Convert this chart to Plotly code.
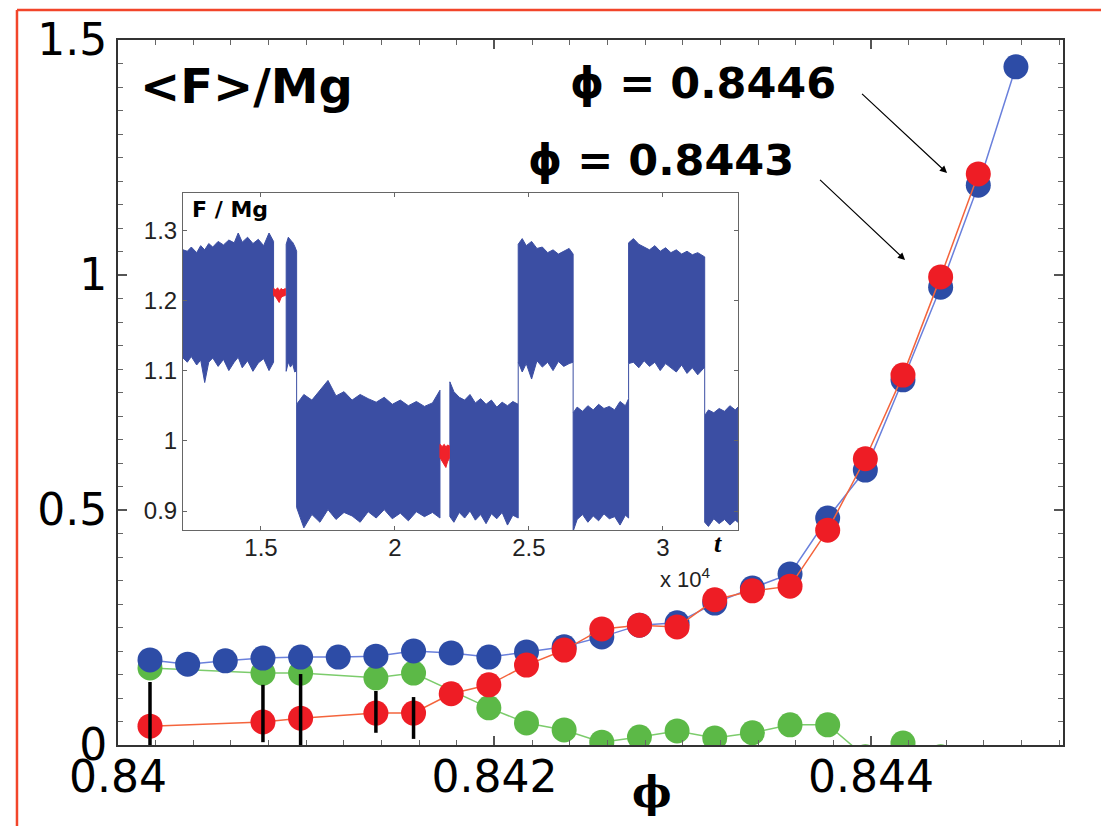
import plotly.graph_objects as go

# ---------------- main panel data ----------------
phi_all = [0.84017, 0.84037, 0.84057, 0.84077, 0.84097, 0.84117, 0.84137, 0.84157,
           0.84177, 0.84197, 0.84217, 0.84237, 0.84257, 0.84277, 0.84297, 0.84317,
           0.84337, 0.84357, 0.84377, 0.84397, 0.84417, 0.84437, 0.84457, 0.84477]
blue_F = [0.181, 0.172, 0.179, 0.185, 0.187, 0.187, 0.189, 0.200,
          0.196, 0.187, 0.198, 0.209, 0.230, 0.255, 0.260, 0.302,
          0.334, 0.364, 0.483, 0.585, 0.777, 0.974, 1.191, 1.443]

phi_red = [0.84017, 0.84077, 0.84097, 0.84137, 0.84157, 0.84177, 0.84197, 0.84217,
           0.84237, 0.84257, 0.84277, 0.84297, 0.84317, 0.84337, 0.84357, 0.84377,
           0.84397, 0.84417, 0.84437, 0.84457]
red_F = [0.040, 0.049, 0.057, 0.068, 0.068, 0.109, 0.128, 0.170,
         0.202, 0.247, 0.255, 0.251, 0.309, 0.328, 0.338, 0.457,
         0.609, 0.787, 0.996, 1.215]

phi_green = [0.84017, 0.84077, 0.84097, 0.84137, 0.84157, 0.84197, 0.84217, 0.84237,
             0.84257, 0.84277, 0.84297, 0.84317, 0.84337, 0.84357, 0.84377, 0.84397,
             0.84417, 0.84437]
green_F = [0.164, 0.153, 0.153, 0.143, 0.153, 0.079, 0.047, 0.032,
           0.006, 0.017, 0.030, 0.015, 0.026, 0.043, 0.043, -0.025,
           0.004, -0.025]

bar_phi = [0.84017, 0.84077, 0.84097, 0.84137, 0.84157]
bar_lo = [-0.01, 0.006, -0.01, 0.026, 0.013]
bar_hi = [0.134, 0.128, 0.151, 0.115, 0.102]

x_ticks = [0.840, 0.842, 0.844]
x_ticktext = ["0.84", "0.842", "0.844"]
y_ticks = [0, 0.5, 1.0, 1.5]
y_ticktext = ["0", "0.5", "1", "1.5"]

# ---------------- inset data (t in units of 1e4) ----------------
# blue blocks of the force signal: time, upper envelope, lower envelope (None separates blocks)
sig_t = [1.209, 1.225, 1.24, 1.26, 1.275, 1.29, 1.305, 1.32, 1.34, 1.36, 1.38, 1.40, 1.415, 1.43, 1.45, 1.47, 1.49, 1.51, 1.53, 1.547, None,
         1.594, 1.602, 1.61, 1.618, 1.626, 1.633, None,
         1.633, 1.66, 1.69, 1.72, 1.75, 1.78, 1.81, 1.84, 1.87, 1.90, 1.93, 1.96, 1.99, 2.02, 2.05, 2.08, 2.11, 2.14, 2.168, None,
         2.205, 2.22, 2.24, 2.26, 2.28, 2.30, 2.32, 2.34, 2.36, 2.38, 2.40, 2.42, 2.44, 2.46, None,
         2.46, 2.475, 2.49, 2.51, 2.53, 2.55, 2.57, 2.59, 2.61, 2.63, 2.65, 2.665, None,
         2.665, 2.68, 2.70, 2.72, 2.74, 2.76, 2.78, 2.80, 2.82, 2.84, 2.86, 2.872, None,
         2.872, 2.89, 2.91, 2.93, 2.95, 2.97, 2.99, 3.01, 3.03, 3.05, 3.07, 3.09, 3.11, 3.13, 3.156, None,
         3.156, 3.17, 3.19, 3.21, 3.23, 3.25, 3.27, 3.28]
sig_hi = [1.272, 1.270, 1.276, 1.268, 1.278, 1.272, 1.281, 1.276, 1.284, 1.279, 1.286, 1.282, 1.296, 1.283, 1.290, 1.281, 1.287, 1.278, 1.296, 1.284, None,
          1.280, 1.290, 1.286, 1.283, 1.277, 1.270, None,
          1.052, 1.066, 1.058, 1.072, 1.086, 1.064, 1.070, 1.058, 1.066, 1.060, 1.055, 1.062, 1.052, 1.058, 1.050, 1.056, 1.049, 1.054, 1.072, None,
          1.084, 1.070, 1.062, 1.058, 1.066, 1.054, 1.060, 1.052, 1.058, 1.048, 1.055, 1.050, 1.056, 1.052, None,
          1.280, 1.288, 1.278, 1.284, 1.274, 1.276, 1.268, 1.272, 1.266, 1.270, 1.274, 1.266, None,
          1.040, 1.048, 1.042, 1.050, 1.044, 1.052, 1.046, 1.049, 1.044, 1.056, 1.050, 1.060, None,
          1.282, 1.288, 1.280, 1.276, 1.272, 1.278, 1.270, 1.275, 1.268, 1.272, 1.266, 1.270, 1.265, 1.268, 1.262, None,
          1.036, 1.044, 1.040, 1.046, 1.042, 1.050, 1.044, 1.048]
sig_lo = [1.118, 1.112, 1.120, 1.108, 1.115, 1.083, 1.112, 1.118, 1.106, 1.116, 1.100, 1.112, 1.119, 1.104, 1.114, 1.099, 1.111, 1.117, 1.100, 1.112, None,
          1.099, 1.112, 1.105, 1.110, 1.098, 1.100, None,
          0.905, 0.876, 0.895, 0.884, 0.902, 0.888, 0.898, 0.893, 0.884, 0.899, 0.890, 0.902, 0.889, 0.897, 0.886, 0.899, 0.892, 0.898, 0.890, None,
          0.892, 0.884, 0.898, 0.890, 0.900, 0.887, 0.895, 0.882, 0.896, 0.889, 0.898, 0.880, 0.894, 0.890, None,
          1.112, 1.098, 1.110, 1.088, 1.114, 1.105, 1.112, 1.100, 1.113, 1.106, 1.110, 1.112, None,
          0.871, 0.888, 0.895, 0.884, 0.893, 0.886, 0.896, 0.889, 0.892, 0.880, 0.894, 0.890, None,
          1.110, 1.112, 1.104, 1.114, 1.106, 1.112, 1.100, 1.110, 1.104, 1.098, 1.108, 1.096, 1.104, 1.094, 1.105, None,
          0.884, 0.878, 0.889, 0.882, 0.888, 0.880, 0.887, 0.884]

# red pieces of the signal
red_t = [1.547, 1.555, 1.562, 1.568, 1.575, 1.582, 1.591, None,
         2.168, 2.176, 2.184, 2.19, 2.196, 2.203]
red_hi = [1.217, 1.215, 1.218, 1.214, 1.217, 1.215, 1.217, None,
          0.995, 0.992, 0.995, 0.991, 0.994, 0.993]
red_lo = [1.207, 1.205, 1.201, 1.197, 1.204, 1.206, 1.207, None,
          0.976, 0.972, 0.966, 0.962, 0.970, 0.975]

inset_xticks = [1.5, 2.0, 2.5, 3.0]
inset_xticktext = ["1.5", "2", "2.5", "3"]
inset_yticks = [0.9, 1.0, 1.1, 1.2, 1.3]
inset_yticktext = ["0.9", "1", "1.1", "1.2", "1.3"]

# ---------------- colours / styles ----------------
BLUE = "#2d4ca6"
BLUE_LINE = "#6a80dc"
RED = "#ee1d25"
RED_LINE = "#f4643c"
GREEN = "#5cb947"
GREEN_LINE = "#7ccc6c"
SIG_BLUE = "#3b4ea3"
SIG_RED = "#f0222a"


def split_segments(t, hi, lo):
    segs, cur = [], []
    for a, b, c in zip(t, hi, lo):
        if a is None:
            if cur:
                segs.append(cur)
            cur = []
        else:
            cur.append((a, b, c))
    if cur:
        segs.append(cur)
    return segs


fig = go.Figure()

# main panel traces: green (bottom), blue, red, black bars
fig.add_trace(go.Scatter(x=phi_green, y=green_F, mode="lines+markers",
                         line=dict(color=GREEN_LINE, width=1.5),
                         marker=dict(color=GREEN, size=25, line=dict(width=0)),
                         cliponaxis=True, showlegend=False))
fig.add_trace(go.Scatter(x=phi_all, y=blue_F, mode="lines+markers",
                         line=dict(color=BLUE_LINE, width=1.5),
                         marker=dict(color=BLUE, size=25, line=dict(width=0)),
                         cliponaxis=True, showlegend=False))
fig.add_trace(go.Scatter(x=phi_red, y=red_F, mode="lines+markers",
                         line=dict(color=RED_LINE, width=1.5),
                         marker=dict(color=RED, size=25, line=dict(width=0)),
                         cliponaxis=True, showlegend=False))
bx, by = [], []
for xv, lo, hi in zip(bar_phi, bar_lo, bar_hi):
    bx += [xv, xv, None]
    by += [lo, hi, None]
fig.add_trace(go.Scatter(x=bx, y=by, mode="lines", line=dict(color="black", width=3.5),
                         showlegend=False, hoverinfo="skip"))

# inset: blue signal blocks
segs = split_segments(sig_t, sig_hi, sig_lo)
for seg in segs:
    ts = [p[0] for p in seg]
    px = ts + ts[::-1] + [ts[0]]
    py = [p[1] for p in seg] + [p[2] for p in seg][::-1] + [seg[0][1]]
    fig.add_trace(go.Scatter(x=px, y=py, xaxis="x2", yaxis="y2", mode="lines",
                             fill="toself", fillcolor=SIG_BLUE,
                             line=dict(color=SIG_BLUE, width=1),
                             showlegend=False, hoverinfo="skip"))
# thin transitions where consecutive blocks touch
cx, cy = [], []
for a, b in zip(segs[:-1], segs[1:]):
    if abs(a[-1][0] - b[0][0]) < 1e-9:
        if a[-1][2] > b[0][1]:
            cx += [a[-1][0], a[-1][0], None]
            cy += [a[-1][2], b[0][1], None]
        elif b[0][2] > a[-1][1]:
            cx += [b[0][0], b[0][0], None]
            cy += [a[-1][1], b[0][2], None]
fig.add_trace(go.Scatter(x=cx, y=cy, xaxis="x2", yaxis="y2", mode="lines",
                         line=dict(color=SIG_BLUE, width=1), showlegend=False,
                         hoverinfo="skip"))
# red pieces
for seg in split_segments(red_t, red_hi, red_lo):
    ts = [p[0] for p in seg]
    px = ts + ts[::-1] + [ts[0]]
    py = [p[1] for p in seg] + [p[2] for p in seg][::-1] + [seg[0][1]]
    fig.add_trace(go.Scatter(x=px, y=py, xaxis="x2", yaxis="y2", mode="lines",
                             fill="toself", fillcolor=SIG_RED,
                             line=dict(color=SIG_RED, width=1),
                             showlegend=False, hoverinfo="skip"))

TICKFONT = dict(family="DejaVu Sans", size=44, color="black")
INSET_FONT = dict(family="Liberation Sans", size=24, color="#222222")

fig.update_layout(
    width=1101, height=826, autosize=False,
    margin=dict(l=118, r=38, t=40, b=81, pad=0),
    paper_bgcolor="white", plot_bgcolor="white",
    showlegend=False,
    xaxis=dict(range=[0.84, 0.84502], tickvals=x_ticks, ticktext=x_ticktext,
               tickfont=TICKFONT, showline=True, mirror="allticks",
               linecolor="#333333", linewidth=2, ticks="inside", ticklen=9,
               tickwidth=1.5, tickcolor="#555555", showgrid=False, zeroline=False,
               ticklabelstandoff=-8,
               minor=dict(ticks="inside", ticklen=5, tick0=0.84, dtick=0.0002,
                          tickcolor="#666666", tickwidth=1.2, showgrid=False)),
    yaxis=dict(range=[0, 1.5], tickvals=y_ticks, ticktext=y_ticktext,
               tickfont=TICKFONT, showline=True, mirror="allticks",
               linecolor="#333333", linewidth=2, ticks="inside", ticklen=9,
               tickwidth=1.5, tickcolor="#555555", showgrid=False, zeroline=False,
               minor=dict(ticks="inside", ticklen=5, tick0=0, dtick=0.05,
                          tickcolor="#666666", tickwidth=1.2, showgrid=False)),
    xaxis2=dict(domain=[0.0688, 0.656], anchor="y2", range=[1.209, 3.28],
                tickvals=inset_xticks, ticktext=inset_xticktext, tickfont=INSET_FONT,
                showline=True, mirror="allticks", linecolor="#666666", linewidth=1,
                ticks="inside", ticklen=4, tickcolor="#666666", showgrid=False,
                zeroline=False, ticklabelstandoff=-4),
    yaxis2=dict(domain=[0.305, 0.783], anchor="x2", range=[0.873, 1.353],
                tickvals=inset_yticks, ticktext=inset_yticktext, tickfont=INSET_FONT,
                showline=True, mirror="allticks", linecolor="#666666", linewidth=1,
                ticks="inside", ticklen=4, tickcolor="#666666", showgrid=False,
                zeroline=False),
)

# red outer frame lines (top and left, as in the source picture)
fig.add_shape(type="line", xref="paper", yref="paper", x0=-0.1069, x1=1.05,
              y0=1.0426, y1=1.0426, line=dict(color="#f2452a", width=2.5), layer="above")
fig.add_shape(type="line", xref="paper", yref="paper", x0=-0.1069, x1=-0.1069,
              y0=1.0426, y1=-0.2, line=dict(color="#f2452a", width=2.5), layer="above")

PHI = "\u03d5"
ann = []
ann.append(dict(text="<b>&lt;F&gt;/Mg</b>", xref="paper", yref="paper", x=0.0212, y=0.935,
                xanchor="left", yanchor="middle", showarrow=False,
                font=dict(family="DejaVu Sans", size=48, color="black")))
ann.append(dict(text="<b>" + PHI + " = 0.8446</b>", xref="paper", yref="paper", x=0.619, y=0.939,
                xanchor="center", yanchor="middle", showarrow=False,
                font=dict(family="DejaVu Sans", size=43, color="black")))
ann.append(dict(text="<b>" + PHI + " = 0.8443</b>", xref="paper", yref="paper", x=0.5746, y=0.830,
                xanchor="center", yanchor="middle", showarrow=False,
                font=dict(family="DejaVu Sans", size=43, color="black")))
# arrows (head at data position near the red points)
ann.append(dict(text=" ", x=0.844404, y=1.217, xref="x", yref="y", ax=-87, ay=-81,
                showarrow=True, arrowhead=2, arrowsize=1.2, arrowwidth=1.2,
                arrowcolor="black", font=dict(size=2)))
ann.append(dict(text=" ", x=0.844181, y=1.032, xref="x", yref="y", ax=-87, ay=-82,
                showarrow=True, arrowhead=2, arrowsize=1.2, arrowwidth=1.2,
                arrowcolor="black", font=dict(size=2)))
# main x-axis title
ann.append(dict(text="<b>" + PHI + "</b>", xref="paper", yref="paper", x=0.565, y=-0.068,
                xanchor="center", yanchor="middle", showarrow=False,
                font=dict(family="DejaVu Serif", size=42, color="black")))
# inset labels
ann.append(dict(text="<b>F / Mg</b>", xref="x2 domain", yref="y2 domain", x=0.0126, y=0.952,
                xanchor="left", yanchor="middle", showarrow=False,
                font=dict(family="DejaVu Sans", size=22, color="black")))
ann.append(dict(text="<b><i>t</i></b>", xref="paper", yref="paper", x=0.635, y=0.2865,
                xanchor="center", yanchor="middle", showarrow=False,
                font=dict(family="Liberation Serif", size=26, color="black")))
ann.append(dict(text="x 10<sup>4</sup>", xref="paper", yref="paper", x=0.6,
                y=0.237, xanchor="center", yanchor="middle", showarrow=False,
                font=dict(family="Liberation Sans", size=22, color="#222222")))
fig.update_layout(annotations=ann)

fig.write_html("out.html")
